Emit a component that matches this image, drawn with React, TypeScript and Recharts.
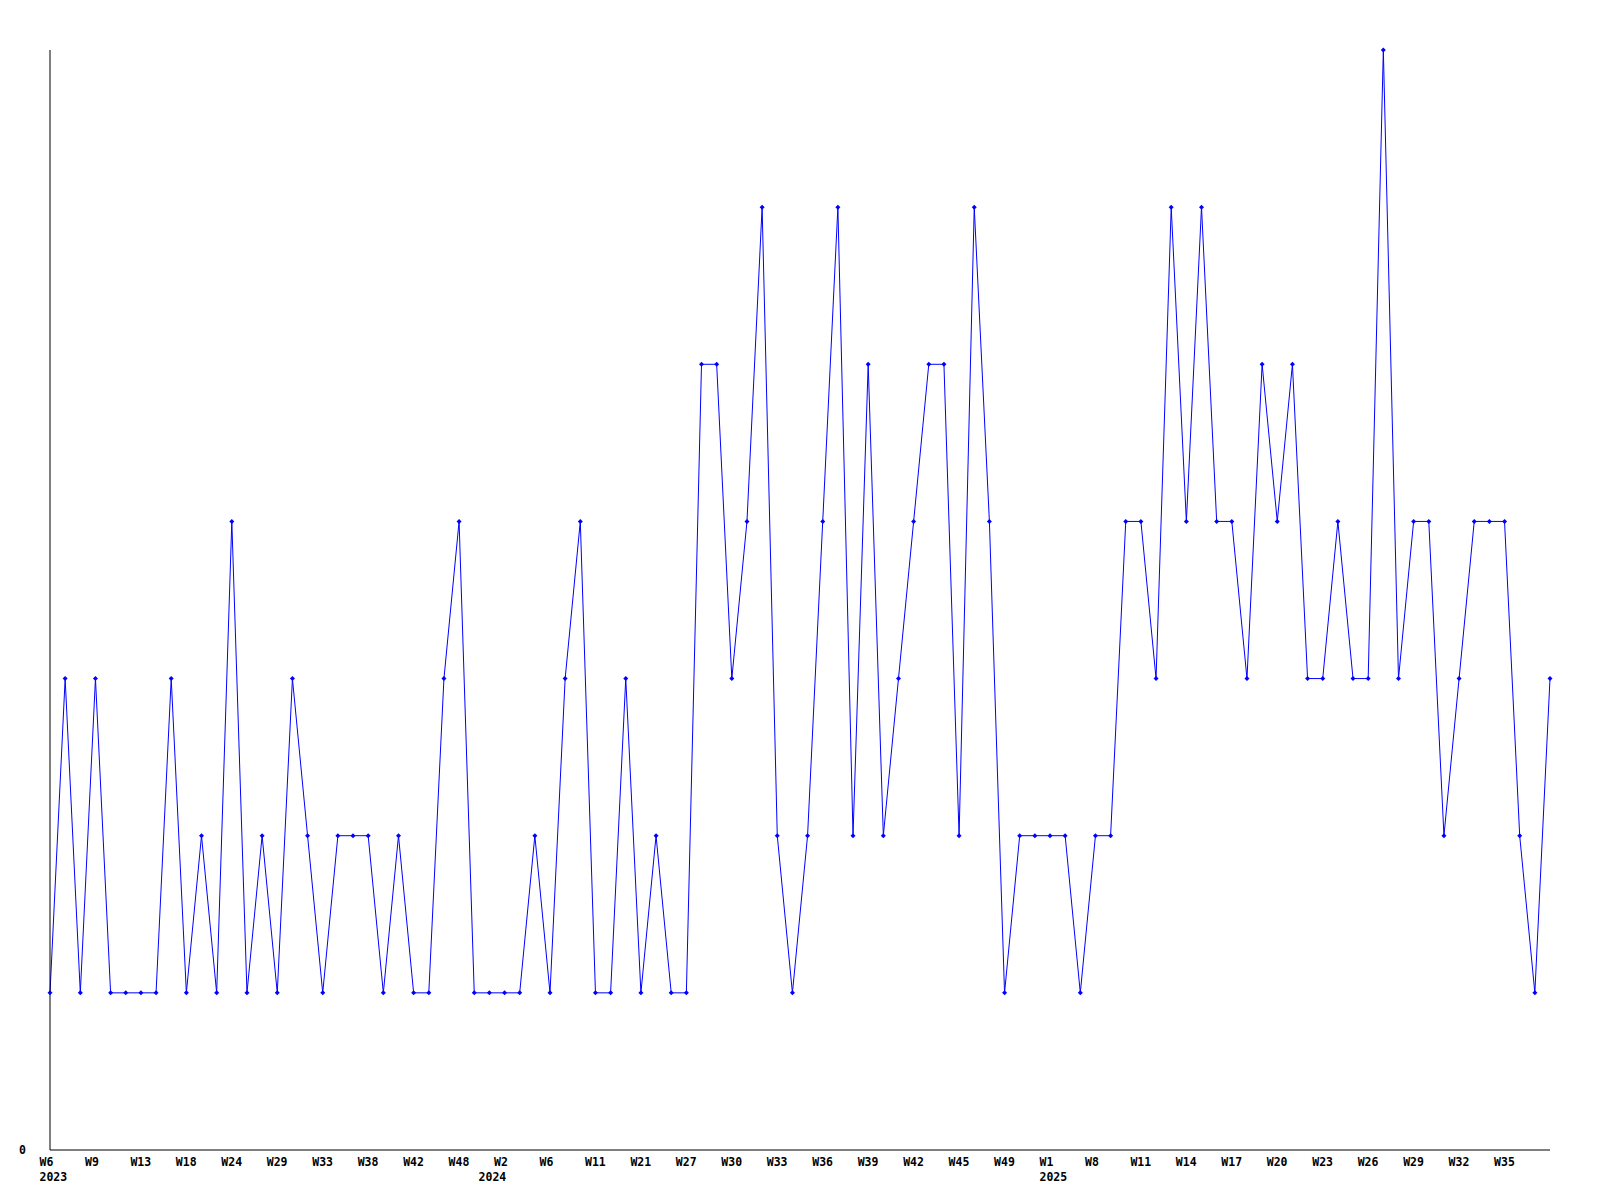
import React from 'react';
import { LineChart, Line, XAxis, YAxis } from 'recharts';

// week labels per year (irregular, weeks with no data are skipped)
const weeks2023 = [6, 7, 8, 9, 10, 12, 13, 15, 16, 18, 20, 22, 24, 26, 27, 29, 30, 31, 33, 35, 36, 38, 39, 40, 42, 44, 46, 48, 50, 51];
const weeks2024 = [2, 3, 5, 6, 8, 9, 11, 14, 17, 21, 23, 25, 27, 28, 29, 30, 31, 32, 33, 34, 35, 36, 37, 38, 39, 40, 41, 42, 43, 44, 45, 46, 47, 49, 50, 51];
const weeks2025 = [1, 3, 6, 8, 9, 10, 11, 12, 13, 14, 15, 16, 17, 18, 19, 20, 21, 22, 23, 24, 25, 26, 27, 28, 29, 30, 31, 32, 33, 34, 35, 36, 37, 38];

const counts = [
  1, 3, 1, 3, 1, 1, 1, 1, 3, 1, 2, 1, 4, 1, 2, 1, 3, 2, 1, 2, 2, 2, 1, 2, 1, 1, 3, 4, 1, 1,
  1, 1, 2, 1, 3, 4, 1, 1, 3, 1, 2, 1, 1, 5, 5, 3, 4, 6, 2, 1, 2, 4, 6, 2, 5, 2, 3, 4, 5, 5,
  2, 6, 4, 1, 2, 2, 2, 2, 1, 2, 2, 4, 4, 3, 6, 4, 6, 4, 4, 3, 5, 4, 5, 3, 3, 4, 3, 3, 7, 3,
  4, 4, 2, 3, 4, 4, 4, 2, 1, 3,
];

const yTicks = [0];

const rows = [
  ...weeks2023.map((w, i) => ({ key: `2023-W${w}`, first: i === 0 })),
  ...weeks2024.map((w, i) => ({ key: `2024-W${w}`, first: i === 0 })),
  ...weeks2025.map((w, i) => ({ key: `2025-W${w}`, first: i === 0 })),
].map((r, i) => ({ ...r, value: counts[i] }));

// every third week gets a label, the last point has none
const xTicks = rows.filter((_, i) => i % 3 === 0 && i < rows.length - 1).map(r => r.key);
const firstOfYear = new Set(rows.filter(r => r.first).map(r => r.key));

const FONT = '"DejaVu Sans Mono", monospace';

function WeekTick(props: any) {
  const { x, y, payload } = props;
  const [year, week] = String(payload.value).split('-');
  const left = x - 10.5;
  // 2024 label sits a bit left of its week label (year does not start on W1)
  const yearLeft = week === 'W1' || year === '2023' ? left : left - 15.5;
  return (
    <g>
      <text x={left} y={y + 8} fontFamily={FONT} fontWeight={700} fontSize={11.5} fill="#000">{week}</text>
      {firstOfYear.has(payload.value) && (
        <text x={yearLeft} y={y + 23} fontFamily={FONT} fontWeight={700} fontSize={11.5} fill="#000">{year}</text>
      )}
    </g>
  );
}

function ZeroTick(props: any) {
  const { y, payload } = props;
  return (
    <text x={26} y={y + 4} textAnchor="end" fontFamily={FONT} fontWeight={700} fontSize={11.5} fill="#000">{payload.value}</text>
  );
}

function Diamond(props: any) {
  const { cx, cy } = props;
  if (cx == null || cy == null) return null;
  return <path d={`M${cx},${cy - 2.5}L${cx + 2.5},${cy}L${cx},${cy + 2.5}L${cx - 2.5},${cy}Z`} fill="#0000ff" stroke="none" />;
}

export default function App() {
  return (
    <div style={{ position: 'absolute', left: 0, top: 0, width: 1600, height: 1200, background: '#fff' }}>
      <LineChart width={1600} height={1200} data={rows} margin={{ top: 50, right: 50, bottom: 10, left: 0 }}>
        <XAxis
          dataKey="key"
          ticks={xTicks}
          interval={0}
          height={40}
          tickLine={false}
          axisLine={{ stroke: '#000' }}
          tick={<WeekTick />}
        />
        <YAxis
          width={50}
          domain={[0, 7]}
          ticks={yTicks}
          tickLine={false}
          axisLine={{ stroke: '#000' }}
          tick={<ZeroTick />}
        />
        <Line
          type="linear"
          dataKey="value"
          stroke="#0000ff"
          strokeWidth={1}
          dot={<Diamond />}
          activeDot={false}
          isAnimationActive={false}
        />
      </LineChart>
    </div>
  );
}
